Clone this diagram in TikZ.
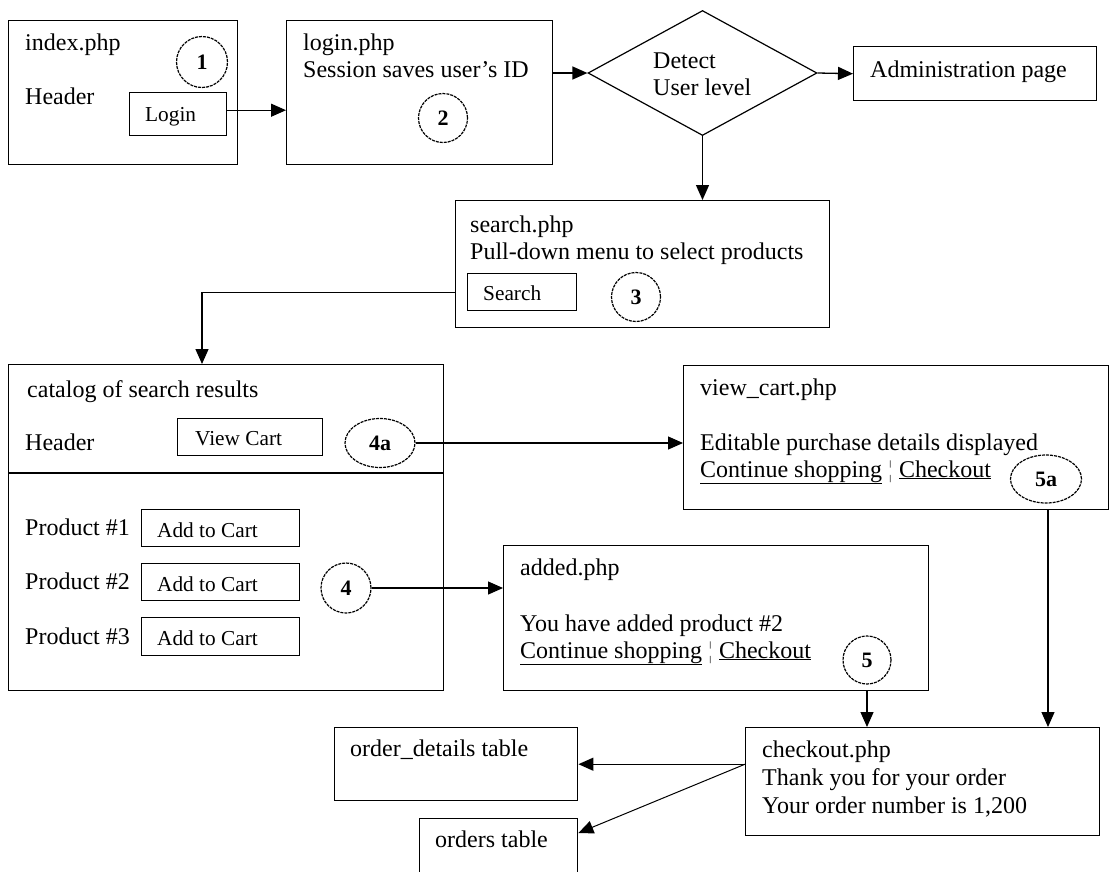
\documentclass[tikz,border=0pt]{standalone}
\usepackage{fontspec}
\setmainfont{Liberation Serif}
\usetikzlibrary{arrows.meta,shapes.geometric,calc}
\newcommand\myul[1]{\underline{#1}}
\newcommand\mysep{{\color{gray}¦}}
\begin{document}
\begin{tikzpicture}[x=1pt,y=-1pt,
  box/.style={draw, line width=1.4pt, rectangle, inner sep=0pt, anchor=north west},
  btn/.style={draw, line width=1.4pt, rectangle, inner sep=0pt, anchor=north west},
  txt/.style={anchor=base west, inner sep=0pt, font=\fontsize{24}{28}\selectfont},
  btxt/.style={anchor=base west, inner sep=0pt, font=\fontsize{21.3}{25}\selectfont},
  num/.style={circle, draw, dash pattern=on 3pt off 1pt, line width=1.2pt, minimum size=50pt, inner sep=0pt, font=\bfseries\fontsize{22}{26}\selectfont},
  numell/.style={ellipse, draw, dash pattern=on 3pt off 1pt, line width=1.2pt, minimum width=70pt, minimum height=49pt, inner sep=0pt, font=\bfseries\fontsize{22}{26}\selectfont},
  arr/.style={line width=1.3pt, -{Triangle[length=15pt,width=13pt]}},
]
\useasboundingbox (0,0) rectangle (1113,871);
\clip (0,0) rectangle (1113,871);

% index.php
\node[box, minimum width=229pt, minimum height=144pt] (index) at (8,20) {};
\node[txt] (t-index) at (25,50) {index.php};
\node[txt] (t-hdr1) at (25,104) {Header};
\node[btn, minimum width=97pt, minimum height=43pt] (loginbtn) at (129,92) {};
\node[btxt] (t-login) at (145,121) {Login};
\node[num, minimum size=51pt] (n1) at (202,62) {1};

% login.php
\node[box, minimum width=266pt, minimum height=144pt] (login) at (286,20) {};
\node[txt] (t-loginphp) at (303,50) {login.php};
\node[txt] (t-session) at (303,77) {Session saves user's ID};
\node[num, minimum size=49pt] (n2) at (443,118) {2};

% diamond
\node[diamond, draw, line width=1.2pt, minimum width=229pt, minimum height=125pt, inner sep=0pt] (dia) at (702.5,73) {};
\node[txt] (t-detect) at (653,68) {Detect};
\node[txt] (t-ulevel) at (653,95) {User level};

% admin
\node[box, minimum width=243pt, minimum height=54pt] (admin) at (853,46) {};
\node[txt] (t-admin) at (870,77) {Administration page};

% search.php
\node[box, minimum width=374pt, minimum height=127pt] (search) at (455,200) {};
\node[txt] (t-search) at (470,232) {search.php};
\node[txt] (t-pull) at (470,259) {Pull-down menu to select products};
\node[btn, minimum width=109pt, minimum height=37pt] (searchbtn) at (467,273) {};
\node[btxt] (t-searchbtn) at (483,300) {Search};
\node[num, minimum size=49pt] (n3) at (636,297) {3};

% catalog
\node[box, minimum width=435pt, minimum height=326pt] (catalog) at (8,364) {};
\draw[line width=1.4pt] ($(catalog.north west)+(0,109)$) -- ($(catalog.north east)+(0,109)$);
\node[txt] (t-catalog) at (27,397) {catalog of search results};
\node[txt] (t-hdr2) at (25,450) {Header};
\node[btn, minimum width=145pt, minimum height=37pt] (vcbtn) at (177,418) {};
\node[btxt] (t-vcbtn) at (195,445) {View Cart};
\node[numell] (e4a) at (380,443) {4a};
\node[txt] (t-p1) at (25,535) {Product \#1};
\node[txt] (t-p2) at (25,589) {Product \#2};
\node[txt] (t-p3) at (25,644) {Product \#3};
\node[btn, minimum width=158pt, minimum height=37pt] (add1) at (141,509) {};
\node[btn, minimum width=158pt, minimum height=37pt] (add2) at (141,563) {};
\node[btn, minimum width=158pt, minimum height=38pt] (add3) at (141,617) {};
\node[btxt] (t-add1) at (157,537) {Add to Cart};
\node[btxt] (t-add2) at (157,591) {Add to Cart};
\node[btxt] (t-add3) at (157,645) {Add to Cart};
\node[num] (n4) at (346,588) {4};

% added.php
\node[box, minimum width=425pt, minimum height=145pt] (added) at (503,545) {};
\node[txt] (t-added) at (520,575) {added.php};
\node[txt] (t-youhave) at (520,631) {You have added product \#2};
\node[txt] (t-cont1) at (520,658) {\myul{Continue shopping} \mysep{} \myul{Checkout}};
\node[num, minimum size=48pt] (n5) at (867,660) {5};

% view_cart.php
\node[box, minimum width=425pt, minimum height=144pt] (viewcart) at (683,365) {};
\node[txt] (t-viewcart) at (700,395) {view\_cart.php};
\node[txt] (t-edit) at (700,450) {Editable purchase details displayed};
\node[txt] (t-cont2) at (700,477) {\myul{Continue shopping} \mysep{} \myul{Checkout}};
\node[numell, minimum width=71pt, minimum height=48pt] (e5a) at (1046,479) {5a};

% checkout.php
\node[box, minimum width=354pt, minimum height=108pt] (checkout) at (745,727) {};
\node[txt] (t-checkout) at (762,757) {checkout.php};
\node[txt] (t-thank) at (762,785) {Thank you for your order};
\node[txt] (t-number) at (762,813) {Your order number is 1,200};

% tables
\node[box, minimum width=243pt, minimum height=73pt] (od) at (334,727) {};
\node[txt] (t-od) at (350,756) {order\_details table};
\node[box, minimum width=158pt, minimum height=70pt] (ot) at (419,818) {};
\node[txt] (t-ot) at (435,847) {orders table};
\coordinate (otin) at ($(ot.north east)+(0,15)$);
\coordinate (catin) at ($(catalog.north west)+(194,0)$);
\coordinate (loginout) at ($(loginbtn.east)+(0,-4)$);

% connectors
\draw[arr] (loginout) -- (loginout -| login.west);
\draw[arr] (dia.west -| login.east) -- (dia.west);
\draw[arr] (dia.east) -- (admin.west);
\draw[arr] (dia.south) -- (dia.south |- search.north);
\draw[arr] (searchbtn.west -| search.west) -| (catin);
\draw[arr] (e4a.east) -- (e4a.east -| viewcart.west);
\draw[arr] (n4.east) -- (n4.east -| added.west);
\draw[arr] ($(e5a.south |- viewcart.south)+(2,0)$) -- ($(e5a.south |- checkout.north)+(2,0)$);
\draw[arr] (n5 |- added.south) -- (n5 |- checkout.north);
\draw[arr] (od.east -| checkout.west) -- (od.east);
\draw[arr, line width=1pt] (od.east -| checkout.west) -- (otin);
\end{tikzpicture}
\end{document}
